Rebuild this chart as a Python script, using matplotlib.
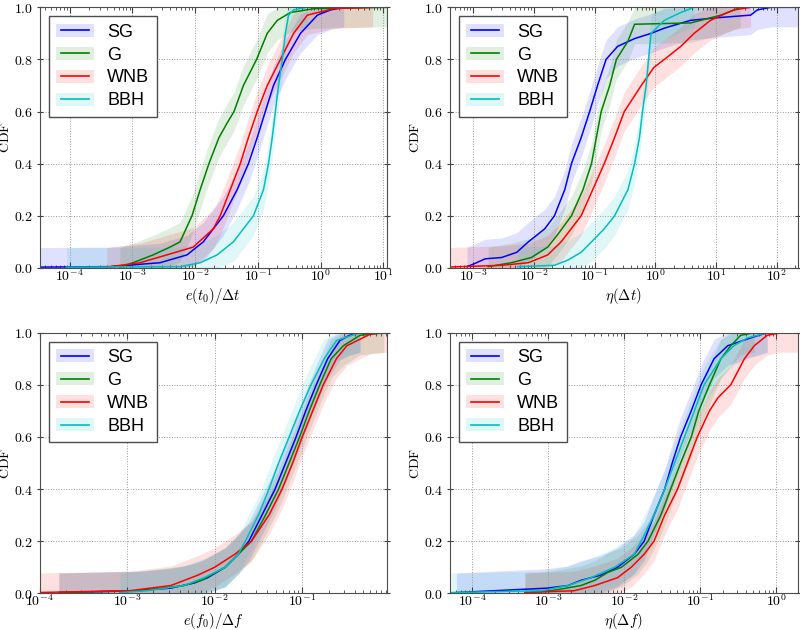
import numpy as np
import matplotlib
matplotlib.use("Agg")
import matplotlib.pyplot as plt
from matplotlib.ticker import LogLocator, NullFormatter, FuncFormatter, FormatStrFormatter
from matplotlib.legend_handler import HandlerBase
from matplotlib.patches import Rectangle
from matplotlib.lines import Line2D

plt.rcParams['mathtext.fontset'] = 'cm'
plt.rcParams['font.family'] = ['DejaVu Serif']

# series names and colours
labels = ["SG", "G", "WNB", "BBH"]
colors = ["b", "g", "r", "c"]

# half width of the confidence band around each CDF
band_halfwidth = 0.075

# ---- e(t0)/dt  (x values stored as log10)
et0_sg_logx = [-4.6, -3.36, -2.56, -2.13, -1.87, -1.55, -1.33, -1.15, -1.01, -0.88, -0.75, -0.56, -0.32, -0.05, 0.16, 0.37]
et0_sg_cdf = [0.003, 0.005, 0.02, 0.05, 0.10, 0.20, 0.30, 0.40, 0.50, 0.60, 0.70, 0.80, 0.90, 0.97, 0.99, 1.0]
et0_g_logx = [-3.20, -2.99, -2.67, -2.40, -2.24, -2.05, -1.92, -1.78, -1.62, -1.48, -1.38, -1.23, -1.02, -0.85, -0.69, -0.48, -0.10, 1.10]
et0_g_cdf = [0.003, 0.02, 0.05, 0.08, 0.10, 0.20, 0.30, 0.40, 0.50, 0.56, 0.60, 0.70, 0.80, 0.90, 0.95, 0.98, 0.995, 1.0]
et0_wnb_logx = [-3.41, -2.88, -2.45, -2.03, -1.71, -1.60, -1.44, -1.28, -1.15, -1.01, -0.85, -0.64, -0.43, -0.21, 0.21, 0.83]
et0_wnb_cdf = [0.003, 0.02, 0.05, 0.08, 0.15, 0.20, 0.30, 0.40, 0.50, 0.60, 0.70, 0.80, 0.90, 0.97, 0.995, 1.0]
et0_bbh_logx = [-4.05, -2.24, -1.92, -1.65, -1.39, -1.07, -0.91, -0.83, -0.77, -0.72, -0.67, -0.61, -0.56, -0.51, -0.43, -0.21]
et0_bbh_cdf = [0.003, 0.005, 0.02, 0.05, 0.10, 0.20, 0.30, 0.40, 0.50, 0.60, 0.70, 0.80, 0.90, 0.97, 0.99, 1.0]

# ---- eta(dt)
etadt_sg_logx = [-3.10, -2.99, -2.80, -2.53, -2.28, -2.09, -1.82, -1.66, -1.49, -1.38, -1.22, -1.08, -0.95, -0.81, -0.62, -0.34, -0.07, 0.15, 0.58, 1.02, 1.57, 1.68, 1.90, 2.40]
etadt_sg_cdf = [0.005, 0.015, 0.035, 0.04, 0.06, 0.10, 0.15, 0.20, 0.30, 0.40, 0.50, 0.60, 0.70, 0.80, 0.85, 0.88, 0.90, 0.92, 0.95, 0.96, 0.97, 0.99, 1.0, 1.0]
etadt_g_logx = [-2.75, -2.37, -2.04, -1.77, -1.60, -1.38, -1.19, -1.05, -0.97, -0.89, -0.75, -0.64, -0.45, -0.34, 0.58, 0.75, 1.08, 1.30, 1.40]
etadt_g_cdf = [0.005, 0.02, 0.04, 0.08, 0.13, 0.20, 0.30, 0.40, 0.50, 0.60, 0.70, 0.80, 0.87, 0.935, 0.94, 0.95, 0.97, 0.99, 1.0]
etadt_wnb_logx = [-3.45, -2.53, -2.09, -1.77, -1.55, -1.22, -1.03, -0.84, -0.67, -0.51, -0.23, -0.02, 0.15, 0.42, 0.64, 0.91, 1.19, 1.30, 1.57]
etadt_wnb_cdf = [0.003, 0.01, 0.02, 0.05, 0.10, 0.20, 0.30, 0.40, 0.50, 0.60, 0.70, 0.77, 0.80, 0.85, 0.90, 0.95, 0.98, 0.99, 1.0]
etadt_bbh_logx = [-2.26, -1.66, -1.44, -1.22, -1.05, -0.84, -0.67, -0.45, -0.34, -0.26, -0.21, -0.15, -0.11, -0.07, 0.15, 0.42, 0.64]
etadt_bbh_cdf = [0.005, 0.01, 0.03, 0.06, 0.10, 0.15, 0.20, 0.30, 0.40, 0.50, 0.60, 0.70, 0.80, 0.90, 0.95, 0.98, 1.0]

# ---- e(f0)/df
ef0_sg_logx = [-3.78, -2.89, -2.50, -2.23, -2.08, -1.88, -1.73, -1.61, -1.46, -1.31, -1.19, -1.07, -0.96, -0.84, -0.71, -0.57, -0.46, -0.34]
ef0_sg_cdf = [0.003, 0.01, 0.02, 0.04, 0.06, 0.10, 0.15, 0.20, 0.30, 0.40, 0.50, 0.60, 0.70, 0.80, 0.90, 0.97, 0.99, 1.0]
ef0_g_logx = [-3.78, -2.85, -2.35, -2.15, -1.88, -1.58, -1.42, -1.27, -1.15, -1.03, -0.92, -0.80, -0.67, -0.53, -0.34, -0.07]
ef0_g_cdf = [0.003, 0.01, 0.03, 0.05, 0.10, 0.20, 0.30, 0.40, 0.50, 0.60, 0.70, 0.80, 0.90, 0.95, 0.99, 1.0]
ef0_wnb_logx = [-4.05, -2.97, -2.50, -2.19, -2.00, -1.77, -1.58, -1.38, -1.23, -1.11, -1.00, -0.88, -0.76, -0.61, -0.49, -0.22, -0.02]
ef0_wnb_cdf = [0.003, 0.01, 0.03, 0.07, 0.10, 0.15, 0.20, 0.30, 0.40, 0.50, 0.60, 0.70, 0.80, 0.90, 0.95, 0.995, 1.0]
ef0_bbh_logx = [-3.08, -2.77, -2.35, -2.12, -1.88, -1.73, -1.65, -1.50, -1.38, -1.27, -1.15, -1.03, -0.90, -0.75, -0.61, -0.34]
ef0_bbh_cdf = [0.003, 0.01, 0.03, 0.06, 0.10, 0.15, 0.20, 0.30, 0.40, 0.50, 0.60, 0.70, 0.80, 0.90, 0.97, 1.0]

# ---- eta(df)
etadf_sg_logx = [-4.21, -3.01, -2.74, -2.57, -2.31, -2.09, -1.87, -1.74, -1.61, -1.47, -1.37, -1.26, -1.12, -0.99, -0.82, -0.64, -0.34, -0.12]
etadf_sg_cdf = [0.003, 0.02, 0.03, 0.05, 0.07, 0.10, 0.15, 0.20, 0.30, 0.40, 0.50, 0.60, 0.70, 0.80, 0.90, 0.95, 0.98, 1.0]
etadf_g_logx = [-3.31, -2.96, -2.57, -2.39, -2.22, -2.04, -1.82, -1.69, -1.52, -1.39, -1.26, -1.12, -1.02, -0.88, -0.73, -0.60, -0.47, -0.29]
etadf_g_cdf = [0.003, 0.01, 0.03, 0.05, 0.08, 0.10, 0.15, 0.20, 0.30, 0.40, 0.50, 0.60, 0.70, 0.80, 0.90, 0.95, 0.99, 1.0]
etadf_wnb_logx = [-3.31, -2.66, -2.39, -2.09, -1.91, -1.74, -1.61, -1.47, -1.30, -1.17, -1.04, -0.88, -0.77, -0.60, -0.51, -0.42, -0.29, -0.12, 0.06, 0.30]
etadf_wnb_cdf = [0.003, 0.01, 0.03, 0.06, 0.10, 0.15, 0.20, 0.30, 0.40, 0.50, 0.60, 0.70, 0.75, 0.80, 0.85, 0.90, 0.95, 0.99, 1.0, 1.0]
etadf_bbh_logx = [-4.28, -3.09, -2.74, -2.44, -2.13, -1.87, -1.78, -1.61, -1.47, -1.34, -1.21, -1.08, -0.95, -0.73, -0.56, -0.38, -0.12]
etadf_bbh_cdf = [0.003, 0.01, 0.03, 0.06, 0.10, 0.15, 0.20, 0.30, 0.40, 0.50, 0.60, 0.70, 0.80, 0.90, 0.95, 0.98, 1.0]

xlabels = [r"$e(t_0)/\Delta t$", r"$\eta(\Delta t)$", r"$e(f_0)/\Delta f$", r"$\eta(\Delta f)$"]
xlims = [(3.3e-5, 11.5), (4.1e-4, 220), (1e-4, 0.93), (5e-5, 1.9)]


class BandHandler(HandlerBase):
    # legend entry: shaded box with a shorter line on top
    def create_artists(self, legend, orig_handle, xdescent, ydescent, width, height, fontsize, trans):
        c = orig_handle.get_color()
        box = Rectangle((-xdescent, -ydescent), width, height, facecolor=c, alpha=0.12,
                        edgecolor='none', transform=trans)
        y = -ydescent + height / 2
        ln = Line2D([-xdescent + 0.13 * width, -xdescent + 0.87 * width], [y, y], color=c, lw=1.2,
                    transform=trans)
        return [box, ln]


fig = plt.figure(figsize=(8, 6.3), dpi=100)
rects = [[0.0494, 0.5747, 0.4344, 0.4137],
         [0.5619, 0.5747, 0.4350, 0.4137],
         [0.0494, 0.0582, 0.4344, 0.4137],
         [0.5619, 0.0582, 0.4350, 0.4137]]

panel_data = [
    [(et0_sg_logx, et0_sg_cdf), (et0_g_logx, et0_g_cdf), (et0_wnb_logx, et0_wnb_cdf), (et0_bbh_logx, et0_bbh_cdf)],
    [(etadt_sg_logx, etadt_sg_cdf), (etadt_g_logx, etadt_g_cdf), (etadt_wnb_logx, etadt_wnb_cdf), (etadt_bbh_logx, etadt_bbh_cdf)],
    [(ef0_sg_logx, ef0_sg_cdf), (ef0_g_logx, ef0_g_cdf), (ef0_wnb_logx, ef0_wnb_cdf), (ef0_bbh_logx, ef0_bbh_cdf)],
    [(etadf_sg_logx, etadf_sg_cdf), (etadf_g_logx, etadf_g_cdf), (etadf_wnb_logx, etadf_wnb_cdf), (etadf_bbh_logx, etadf_bbh_cdf)],
]

for i in range(4):
    ax = fig.add_axes(rects[i])
    handles = []
    for (logx, cdf), c, lab in zip(panel_data[i], colors, labels):
        x = 10 ** np.array(logx)
        y = np.array(cdf)
        ax.fill_between(x, np.clip(y - band_halfwidth, 0, 1), np.clip(y + band_halfwidth, 0, 1),
                        color=c, alpha=0.12, linewidth=0)
        h, = ax.plot(x, y, color=c, lw=1.1, label=lab)
        handles.append(h)

    ax.set_xscale('log')
    ax.set_xlim(xlims[i])
    ax.set_ylim(0, 1)
    ax.xaxis.set_major_locator(LogLocator(base=10, numticks=20))
    ax.xaxis.set_minor_locator(LogLocator(base=10, subs=np.arange(2, 10), numticks=20))
    ax.xaxis.set_minor_formatter(NullFormatter())
    ax.xaxis.set_major_formatter(FuncFormatter(lambda v, p: r"$10^{%d}$" % int(round(np.log10(v)))))
    ax.yaxis.set_major_formatter(FormatStrFormatter(r"$%.1f$"))
    ax.set_yticks([0, 0.2, 0.4, 0.6, 0.8, 1.0])
    ax.tick_params(axis='x', which='both', direction='in', top=True, labelsize=10, pad=0,
                   colors='0.25', labelcolor='k')
    ax.tick_params(axis='x', which='major', length=4)
    ax.tick_params(axis='x', which='minor', length=2)
    ax.tick_params(axis='y', direction='inout', right=True, length=5, labelsize=10, pad=2,
                   colors='0.25', labelcolor='k')
    ax.grid(True, which='major', linestyle=':', color='0.6', linewidth=0.7)
    for s in ax.spines.values():
        s.set_color('0.3')
    ax.set_xlabel(xlabels[i], fontsize=10.5, labelpad=1.5)
    ax.set_ylabel(r"$\mathrm{CDF}$", fontsize=10)
    ax.yaxis.set_label_coords(-0.078, 0.5)

    leg = ax.legend(handles=handles, labels=labels, loc='upper left', handler_map={Line2D: BandHandler()},
                    prop={'family': 'Liberation Sans', 'size': 13}, fancybox=False, framealpha=1,
                    edgecolor='0.3', borderpad=0.4, labelspacing=0.33, handlelength=2.1,
                    handleheight=0.75, handletextpad=0.75, borderaxespad=0.5)
    leg.get_frame().set_linewidth(1.0)

fig.savefig("out.png", dpi=100)
